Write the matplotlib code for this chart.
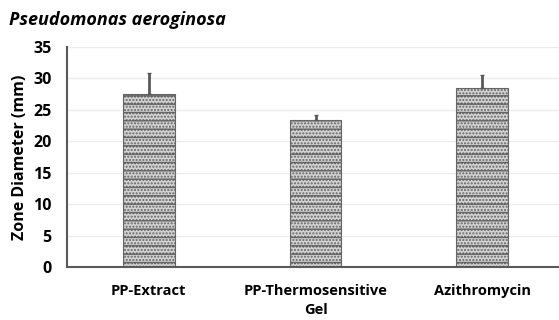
import matplotlib.pyplot as plt
import numpy as np

categories = ['PP-Extract', 'PP-Thermosensitive\nGel', 'Azithromycin']
zone_mm = [27.5, 23.4, 28.4]
err_mm = [3.4, 0.8, 2.2]
y_ticks = [0, 5, 10, 15, 20, 25, 30, 35]

plt.rcParams['font.family'] = ['Open Sans', 'DejaVu Sans']
plt.rcParams['hatch.linewidth'] = 1.0

fig = plt.figure(figsize=(5.59, 3.2), dpi=100)
ax = fig.add_axes([67 / 559, 53 / 320, 1 - 67 / 559, (267 - 47) / 320])

x = np.arange(len(categories))
ax.bar(x, zone_mm, width=0.31, color='#d2d2d2', edgecolor='#666666',
       linewidth=0.8, hatch='--.....', zorder=2)
ax.errorbar(x, zone_mm, yerr=[np.zeros(len(err_mm)), err_mm], fmt='none',
            ecolor='#595959', elinewidth=2, capsize=1.5, capthick=1, zorder=3)

ax.set_xlim(-0.49, 2.46)
ax.set_ylim(0, 35)
ax.set_yticks(y_ticks)
ax.set_xticks(x)
ax.set_xticklabels(categories, fontsize=10.5, fontweight='bold', linespacing=1.5)
for lbl in ax.get_yticklabels():
    lbl.set_fontsize(11.5)
    lbl.set_fontweight('bold')
ax.tick_params(length=0, pad=11)
ax.tick_params(axis='x', pad=12)
ax.grid(axis='y', color='#ececec', linewidth=1, zorder=0)
for s in ['top', 'right']:
    ax.spines[s].set_visible(False)
for s in ['left', 'bottom']:
    ax.spines[s].set_color('#595959')
    ax.spines[s].set_linewidth(1.5)

ax.set_ylabel('Zone Diameter (mm)', fontsize=11.5, fontweight='bold', labelpad=4)
fig.text(9 / 559, 1 - 20 / 320, 'Pseudomonas aeroginosa', fontsize=13,
         fontweight='bold', fontstyle='italic', va='center', ha='left')

fig.savefig('out.png', dpi=100)
